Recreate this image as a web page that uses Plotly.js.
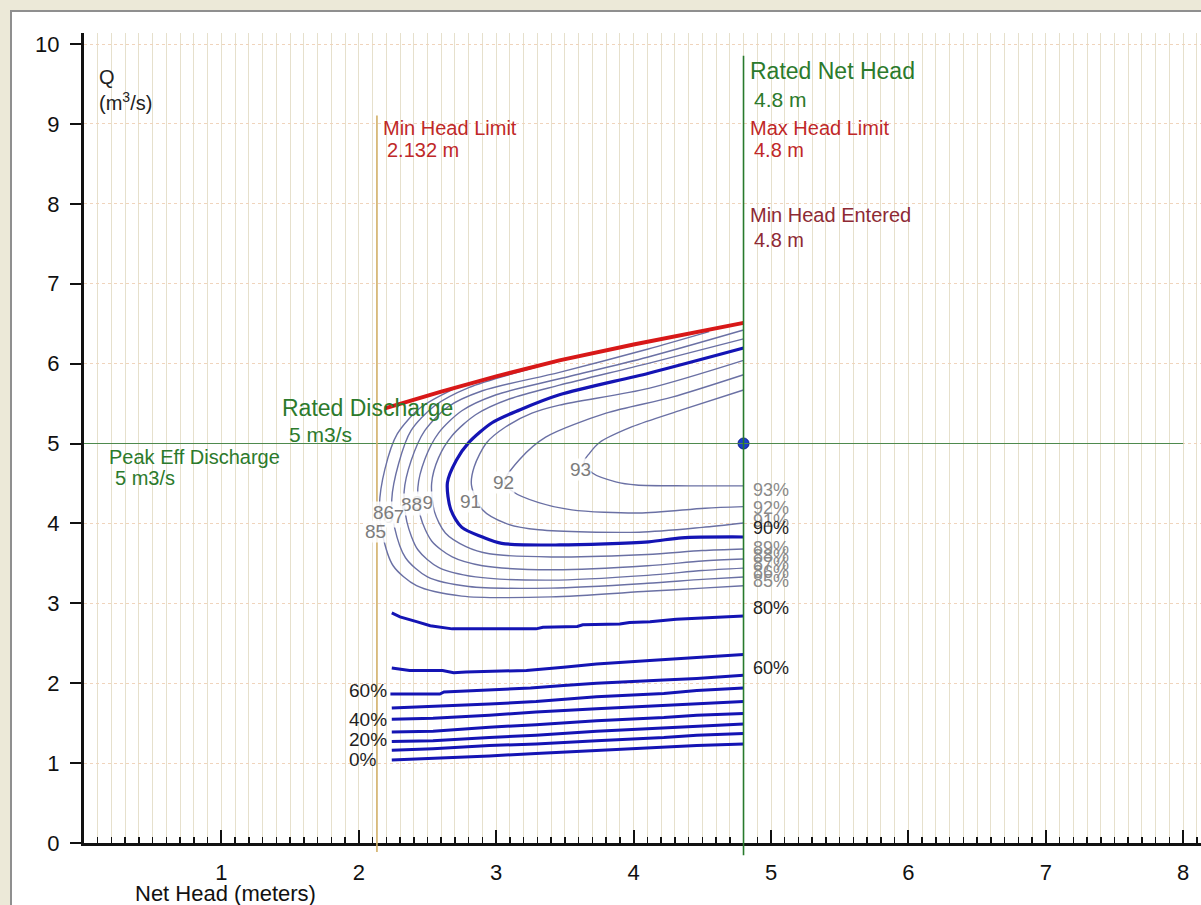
<!DOCTYPE html>
<html><head><meta charset="utf-8">
<script src="https://cdn.plot.ly/plotly-3.0.1.min.js"></script>
<style>
html,body{margin:0;padding:0;background:#ece9d8;width:1201px;height:905px;overflow:hidden;}
#frame{position:absolute;left:10px;top:10px;width:1191px;height:895px;border-top:2px solid #8f8f8f;border-left:2px solid #8f8f8f;background:#fff;}
#chart{position:absolute;left:0;top:0;width:1189px;height:893px;}
</style></head><body><div id="frame"><div id="chart"></div></div>
<script>
// ---- data (Net Head in m, Q in m3/s) ----
const headTicks = [1,2,3,4,5,6,7,8];
const qTicks = [0,1,2,3,4,5,6,7,8,9,10];

const ratedNetHead = 4.8;
const minHeadLimit = 2.132;
const ratedDischarge = 5;

// max discharge boundary (red)
const maxQH = [2.19,2.6,3.0,3.46,4.0,4.4,4.8];
const maxQQ = [5.44,5.65,5.84,6.04,6.24,6.38,6.51];

// efficiency contours
const eff93H = [4.80,4.35,3.99,3.75,3.68,3.64,3.70,3.87,4.02,4.40,4.80];
const eff93Q = [5.67,5.42,5.21,5.01,4.88,4.77,4.63,4.52,4.48,4.47,4.47];
const eff92H = [4.80,4.28,3.80,3.36,3.17,3.06,3.12,3.31,3.55,4.04,4.52,4.80];
const eff92Q = [5.86,5.58,5.38,5.08,4.80,4.52,4.40,4.26,4.17,4.13,4.19,4.21];
const eff91H = [4.80,4.11,3.46,3.26,3.07,2.93,2.84,2.82,2.90,3.07,3.31,4.04,4.50,4.80];
const eff91Q = [6.04,5.69,5.48,5.38,5.21,5.01,4.71,4.48,4.17,4.00,3.92,3.89,3.95,4.005];
const eff90H = [4.80,4.11,3.46,3.17,2.97,2.80,2.71,2.645,2.67,2.75,2.90,3.04,3.46,4.11,4.35,4.80];
const eff90Q = [6.195,5.88,5.61,5.42,5.26,5.01,4.79,4.51,4.17,3.95,3.83,3.75,3.73,3.77,3.82,3.83];
const eff89H = [4.80,4.10,3.46,3.10,2.85,2.68,2.58,2.53,2.55,2.63,2.78,2.95,3.40,4.10,4.50,4.80];
const eff89Q = [6.31,6.00,5.73,5.56,5.36,5.10,4.82,4.50,4.15,3.88,3.71,3.62,3.58,3.61,3.66,3.68];
const eff88H = [4.80,4.10,3.46,3.00,2.75,2.58,2.48,2.43,2.45,2.53,2.68,2.90,3.40,4.10,4.50,4.80];
const eff88Q = [6.42,6.08,5.81,5.61,5.41,5.13,4.80,4.45,4.08,3.78,3.58,3.47,3.42,3.47,3.53,3.555];
const eff87H = [4.55,4.10,3.46,2.90,2.65,2.48,2.38,2.33,2.35,2.43,2.58,2.85,3.40,4.10,4.50,4.80];
const eff87Q = [6.40,6.18,5.89,5.66,5.46,5.16,4.78,4.40,4.02,3.67,3.45,3.33,3.29,3.35,3.41,3.44];
const eff86H = [3.30,2.80,2.55,2.38,2.29,2.24,2.26,2.34,2.50,2.80,3.40,4.10,4.50,4.80];
const eff86Q = [5.96,5.70,5.47,5.16,4.75,4.30,3.95,3.57,3.33,3.21,3.19,3.25,3.30,3.33];
const eff85H = [2.70,2.45,2.28,2.19,2.15,2.17,2.25,2.42,2.75,3.40,4.10,4.50,4.80];
const eff85Q = [5.69,5.45,5.12,4.68,4.22,3.88,3.47,3.22,3.09,3.08,3.15,3.19,3.22];

// lower efficiency lines
const low80H = [2.24,2.30,2.42,2.52,2.68,3.29,3.34,3.59,3.63,3.90,3.97,4.12,4.31,4.46,4.56,4.80];
const low80Q = [2.88,2.83,2.77,2.72,2.68,2.68,2.70,2.71,2.73,2.74,2.76,2.77,2.80,2.81,2.82,2.84];
const low60H = [2.24,2.37,2.61,2.69,2.78,3.22,3.49,3.73,4.09,4.46,4.80];
const low60Q = [2.19,2.16,2.16,2.13,2.14,2.16,2.20,2.24,2.28,2.32,2.36];
const low3H = [2.23,2.59,2.62,3.25,3.49,3.73,4.22,4.46,4.80];
const low3Q = [1.865,1.865,1.89,1.94,1.97,2.00,2.04,2.06,2.10];
const lowH = [2.24,2.54,2.95,3.29,3.73,4.22,4.46,4.80];
const low4Q = [1.69,1.71,1.74,1.77,1.83,1.87,1.91,1.94];
const low5Q = [1.55,1.56,1.60,1.64,1.68,1.72,1.74,1.77];
const low6Q = [1.39,1.40,1.45,1.48,1.53,1.57,1.60,1.62];
const low7Q = [1.27,1.28,1.32,1.35,1.40,1.44,1.46,1.49];
const low8Q = [1.16,1.18,1.22,1.24,1.28,1.32,1.35,1.37];
const low9Q = [1.04,1.06,1.09,1.12,1.16,1.20,1.22,1.24];

// contour number labels
const numLabels = ['93','92','91','89','88','87','86','85'];
const numLabelH = [3.61,3.05,2.81,2.46,2.38,2.25,2.18,2.125];
const numLabelQ = [4.67,4.51,4.27,4.26,4.24,4.09,4.14,3.90];

// right-side % labels
const rightLabels = ['93%','92%','91%','90%','89%','88%','87%','86%','85%','80%','60%'];
const rightLabelQ = [4.42,4.19,4.03,3.94,3.69,3.59,3.49,3.39,3.28,2.94,2.19];
const rightDark = [false,false,false,true,false,false,false,false,false,true,true];
// left-side % labels
const leftLabels = ['60%','40%','20%','0%'];
const leftLabelQ = [1.91,1.54,1.29,1.04];

// ---- build ----
const thin = '#6a70a4', thick = '#1414b4';
const traces = [];
function line(h, q, color, width, spline){
  traces.push({x:h, y:q, type:'scatter', mode:'lines', hoverinfo:'skip',
    line:{color:color, width:width, shape: spline ? 'spline' : 'linear', smoothing:0.8}});
}
line(eff85H, eff85Q, thin, 1.4, true);
line(eff86H, eff86Q, thin, 1.4, true);
line(eff87H, eff87Q, thin, 1.4, true);
line(eff88H, eff88Q, thin, 1.4, true);
line(eff89H, eff89Q, thin, 1.4, true);
line(eff90H, eff90Q, thick, 3.2, true);
line(eff91H, eff91Q, thin, 1.4, true);
line(eff92H, eff92Q, thin, 1.4, true);
line(eff93H, eff93Q, thin, 1.4, true);
line(low80H, low80Q, thick, 3, false);
line(low60H, low60Q, thick, 3, false);
line(low3H, low3Q, thick, 3, false);
[low4Q, low5Q, low6Q, low7Q, low8Q, low9Q].forEach(q => line(lowH, q, thick, 3, false));
line(maxQH, maxQQ, '#d81818', 4, false);
traces.push({x:[ratedNetHead], y:[ratedDischarge], type:'scatter', mode:'markers', hoverinfo:'skip',
  marker:{size:11, color:'#1a3ccc', line:{color:'#0a1c8c', width:1}}});

const FONT = 'Liberation Sans, Arial, sans-serif';
const green = '#2c7a2c', red = '#bf2828', maroon = '#8e2a34';
const ann = [];
function txt(x, y, t, color, size, xanchor, bg){
  const a = {x:x, y:y, xref:'x', yref:'y', text:t, showarrow:false, xanchor:xanchor||'left', yanchor:'middle',
    align:'left', borderpad:0, font:{family:FONT, size:size, color:color}};
  if (bg) a.bgcolor = bg;
  ann.push(a);
}
txt(2.169, 8.95, 'Min Head Limit', red, 20);
txt(2.198, 8.67, '2.132 m', red, 20);
txt(4.84, 9.66, 'Rated Net Head', green, 23);
txt(4.87, 9.31, '4.8 m', green, 21);
txt(4.84, 8.95, 'Max Head Limit', red, 20);
txt(4.87, 8.67, '4.8 m', red, 20);
txt(4.84, 7.86, 'Min Head Entered', maroon, 20);
txt(4.87, 7.55, '4.8 m', maroon, 20);
txt(1.434, 5.44, 'Rated Discharge', green, 23);
txt(1.485, 5.11, '5 m3/s', green, 21);
txt(0.175, 4.83, 'Peak Eff Discharge', green, 20);
txt(0.218, 4.57, '5 m3/s', green, 20);
txt(0.10, 9.42, 'Q<br>(m<sup>3</sup>/s)', '#222', 20);
numLabels.forEach((t,i) => txt(numLabelH[i], numLabelQ[i], t, '#7c7c7c', 19, 'center', 'rgba(255,255,255,0.85)'));
rightLabels.forEach((t,i) => txt(4.86, rightLabelQ[i], t, rightDark[i] ? '#1e1e1e' : '#8a8a8a', 18));
leftLabels.forEach((t,i) => txt(1.92, leftLabelQ[i], t, '#1e1e1e', 19));
ann.push({xref:'paper', yref:'paper', x:(133-84)/1117, y:-(893-843)/810, text:'Net Head (meters)', showarrow:false,
  xanchor:'left', yanchor:'middle', font:{family:FONT, size:22, color:'#111'}});

const shapes = [
  {type:'line', xref:'x', yref:'y', x0:0, x1:8, y0:ratedDischarge, y1:ratedDischarge, layer:'above',
   line:{color:'#4e8a4e', width:1.2}},
  {type:'line', xref:'x', yref:'paper', x0:minHeadLimit, x1:minHeadLimit, y0:-0.011, y1:0.898, layer:'above',
   line:{color:'#d2b066', width:1.6}},
  {type:'line', xref:'x', yref:'paper', x0:ratedNetHead, x1:ratedNetHead, y0:-0.015, y1:0.972, layer:'above',
   line:{color:'#287a2c', width:1.6}}
];

const layout = {
  width:1189, height:893, margin:{l:72, r:0, t:21, b:62},
  paper_bgcolor:'#ffffff', plot_bgcolor:'#ffffff', showlegend:false,
  font:{family:FONT, color:'#111'},
  xaxis:{range:[0, 1117/137.4], tickvals:headTicks, ticktext:headTicks.map(String), ticks:'inside', ticklen:13, tickwidth:2,
    tickcolor:'#111', showline:true, linecolor:'#111', linewidth:3, zeroline:false, showgrid:true, gridcolor:'#e6e0cc', gridwidth:1,
    tickfont:{family:FONT, size:22, color:'#111'}, ticklabelstandoff:8,
    minor:{dtick:0.1, tick0:0, ticks:'inside', ticklen:6, tickwidth:1.5, tickcolor:'#111', showgrid:true, gridcolor:'#e6e0cc', gridwidth:1}},
  yaxis:{range:[0, 810/79.9], tickvals:qTicks, ticks:'outside', ticklen:11, tickwidth:2, tickcolor:'#111',
    showline:true, linecolor:'#111', linewidth:3, zeroline:false, showgrid:true, gridcolor:'#f0d4bc', griddash:'dot', gridwidth:1,
    tickfont:{family:FONT, size:22, color:'#111'}, ticklabelstandoff:6},
  shapes:shapes, annotations:ann
};
Plotly.newPlot('chart', traces, layout, {displayModeBar:false, staticPlot:true});
</script></body></html>
